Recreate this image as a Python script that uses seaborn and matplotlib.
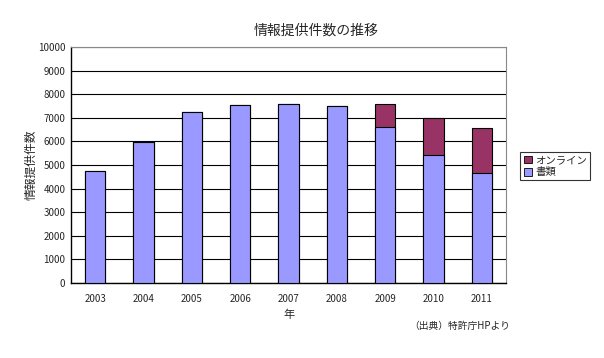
import matplotlib
matplotlib.use("Agg")
import matplotlib.pyplot as plt
import seaborn as sns
import pandas as pd
from matplotlib.patches import Patch

# data
years = ["2003", "2004", "2005", "2006", "2007", "2008", "2009", "2010", "2011"]
shorui = [4750, 5980, 7260, 7530, 7570, 7480, 6610, 5420, 4670]
online = [0, 0, 0, 0, 0, 0, 990, 1560, 1910]

df = pd.DataFrame({"year": years, "shorui": shorui, "online": online})
df["total"] = df["shorui"] + df["online"]

sns.set_style("white")
plt.rcParams["font.family"] = ["Noto Sans CJK JP", "DejaVu Sans"]

fig = plt.figure(figsize=(6.04, 3.58), dpi=100)
ax = fig.add_axes([0.1175, 0.2095, 0.7205, 0.6592])

c_online = "#993366"
c_shorui = "#9999FF"

# stacked: total first, then the lower part on top
sns.barplot(data=df, x="year", y="total", color=c_online, saturation=1,
            width=0.42, edgecolor="black", linewidth=0.8, ax=ax, zorder=3)
sns.barplot(data=df, x="year", y="shorui", color=c_shorui, saturation=1,
            width=0.42, edgecolor="black", linewidth=0.8, ax=ax, zorder=4)

ax.set_ylim(0, 10000)
ax.set_xlim(-0.5, len(years) - 0.5)
ax.set_yticks(range(0, 10001, 1000))
ax.yaxis.grid(True, color="black", linewidth=0.8)
ax.set_axisbelow(True)

for side in ["top", "right"]:
    ax.spines[side].set_color("#888888")
    ax.spines[side].set_linewidth(0.8)
for side in ["left", "bottom"]:
    ax.spines[side].set_color("black")
    ax.spines[side].set_linewidth(1.0)

ax.tick_params(axis="both", labelsize=7, length=0)
ax.tick_params(axis="x", pad=8)
ax.tick_params(axis="y", pad=4)
ax.set_xticks(range(len(years)))
ax.set_xticklabels(years)
# small tick marks between categories
ax.set_xticks([i + 0.5 for i in range(len(years) - 1)], minor=True)
ax.tick_params(axis="x", which="minor", direction="in", length=3, color="black")

ax.set_xlabel("年", fontsize=8, labelpad=4)
ax.set_ylabel("情報提供件数", fontsize=8.5)
ax.yaxis.set_label_coords(-0.078, 0.5)

fig.text(0.523, 0.915, "情報提供件数の推移", fontsize=10, ha="center", va="center")
fig.text(0.845, 0.09, "（出典）特許庁HPより", fontsize=7, ha="right", va="center")

handles = [Patch(facecolor=c_online, edgecolor="black", linewidth=0.6, label="オンライン"),
           Patch(facecolor=c_shorui, edgecolor="black", linewidth=0.6, label="書類")]
leg = fig.legend(handles=handles, loc="upper left", bbox_to_anchor=(0.853, 0.59),
                 fontsize=7.5, frameon=True, fancybox=False, handlelength=0.8,
                 handleheight=0.8, handletextpad=0.3, borderpad=0.3, labelspacing=0.2)
leg.get_frame().set_edgecolor("black")
leg.get_frame().set_linewidth(0.8)

fig.savefig("out.png", dpi=100)
